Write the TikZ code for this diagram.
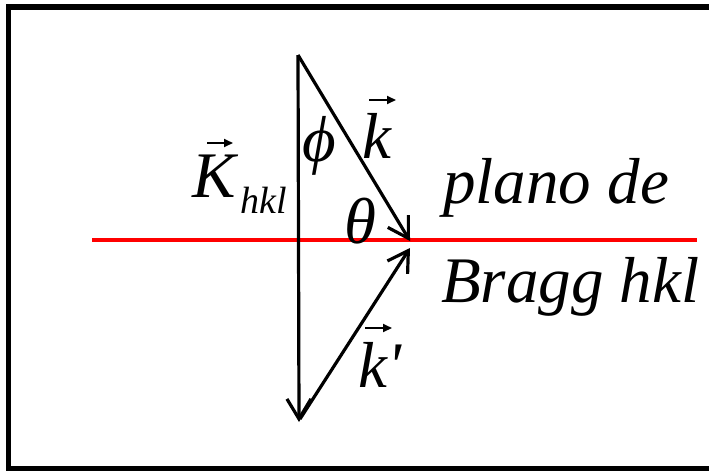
\documentclass[tikz,border=0pt]{standalone}
\usepackage{fontspec}
\setmainfont{Liberation Serif}
\newfontfamily\rawserif[Ligatures=TeXOff]{Liberation Serif}
\usetikzlibrary{arrows.meta}
\begin{document}
\begin{tikzpicture}[x=1pt,y=-1pt,
  vecline/.style={line width=3.2pt,-{Straight Barb[length=20pt,width=24pt]}},
  vecmark/.style={line width=2pt,-{Triangle[length=9pt,width=8pt]}},
  lbl/.style={inner sep=0pt,anchor=base west},
  big/.style={font=\fontsize{65}{70}\selectfont\itshape},
  small/.style={font=\fontsize{38}{44}\selectfont\itshape}]
\useasboundingbox (0,0) rectangle (709,471);
\draw[line width=5.5pt] (8.5,7) rectangle (720,468.5);
\coordinate (pl) at (92,240);
\coordinate (pr) at (697,240);
\draw[red,line width=4pt] (pl) -- (pr);
\coordinate (top) at (298,55);
\coordinate (kt) at (410,241);
\coordinate (bot) at (299,422);
\coordinate (kpt) at (410,248);
\coordinate (kps) at (300,419);
\draw[vecline] (top) -- (bot);
\draw[vecline] (top) -- (kt);
\draw[vecline] (kps) -- (kpt);
\node[lbl,big] (K) at (192,197) {K};
\node[lbl,small] (hkl) at (240,213) {hkl};
\node[inner sep=0pt,big] (phi) at (319,146) {ϕ};
\node[lbl,big] (k) at (362,158) {k};
\node[inner sep=0pt,big] (theta) at (360,221) {θ};
\node[lbl,big] (plano) at (443,203) {plano de};
\node[lbl,big] (bragg) at (441,302) {Bragg hkl};
\node[lbl,big] (kp) at (358,387) {k{\rawserif '}};
\draw[vecmark] ([shift={(15,-54)}]K.base west) -- ++(26,0);
\draw[vecmark] ([shift={(7,-58)}]k.base west) -- ++(27,0);
\draw[vecmark] ([shift={(7,-59)}]kp.base west) -- ++(27,0);
\end{tikzpicture}
\end{document}
